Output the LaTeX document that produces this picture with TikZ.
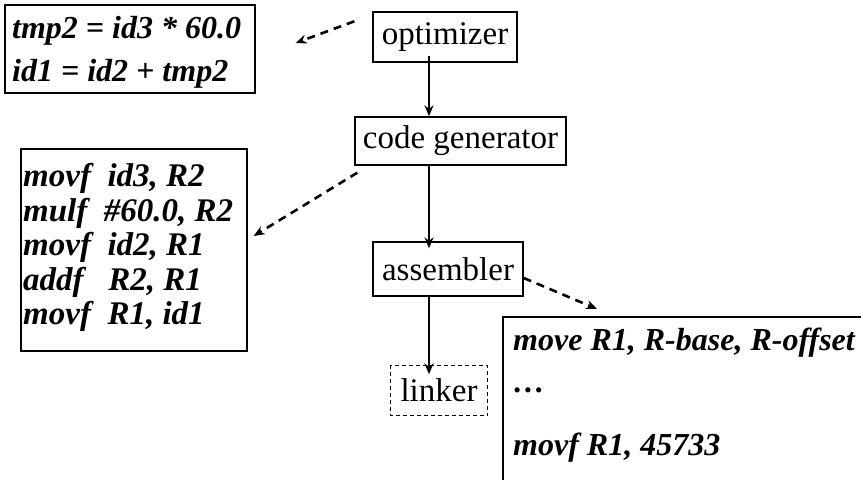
\documentclass[tikz,border=0pt]{standalone}
\usepackage{fontspec}
\setmainfont{Liberation Serif}
\usetikzlibrary{arrows.meta,calc}
\begin{document}
\begin{tikzpicture}[x=1pt,y=-1pt,
  box/.style={draw,line width=1.4pt,inner sep=0pt},
  lbl/.style={box,font=\fontsize{33}{36}\selectfont},
  code/.style={anchor=base west,inner sep=0pt,font=\fontsize{33}{36}\bfseries\itshape},
  bigcode/.style={code,font=\fontsize{32}{36}\bfseries\itshape},
  flow/.style={line width=2.6pt,-{Stealth[length=11pt,width=9pt]}},
  dflow/.style={line width=2.6pt,dash pattern=on 8pt off 6pt,-{Stealth[length=11pt,width=9pt]}}]
\useasboundingbox (0,0) rectangle (861,479);
% boxes
\node[lbl,minimum width=144,minimum height=50] (opt) at (445,37) {optimizer};
\node[lbl,minimum width=211,minimum height=48] (cg) at (460.5,141) {code generator};
\node[lbl,minimum width=150,minimum height=54] (asm) at (448,269) {assembler};
\node[lbl,draw=none,minimum width=96,minimum height=49] (lnk) at (439,390.5) {linker};
\draw[line width=1.2pt,dash pattern=on 4pt off 3pt] (lnk.north west) rectangle (lnk.south east);
\node[box,minimum width=250,minimum height=88] (tb) at (130,49) {};
\node[box,minimum width=226,minimum height=202] (cb) at (134,250) {};
\coordinate (rb) at (503,317);
\draw[line width=1.4pt] (rb) ++(360,0) -- (rb) -- ++(0,165);
% texts
\node[bigcode] (a1) at (12,38) {tmp2 = id3 * 60.0};
\node[bigcode] (a2) at (12,81) {id1 = id2 + tmp2};
\node[code] (c1) at (23,186.5) {movf~~id3, R2};
\node[code] (c2) at (23,221) {mulf~~\#60.0, R2};
\node[code] (c3) at (23,255.5) {movf~~id2, R1};
\node[code] (c4) at (23,290) {addf~~~R2, R1};
\node[code] (c5) at (23,324.5) {movf~~R1, id1};
\node[code,font=\fontsize{32}{36}\bfseries\itshape] (r1) at (513,350) {move R1, R-base, R-offset};
\node[code,font=\fontsize{32}{36}\bfseries\itshape] (r2) at (513,392) {…};
\node[code,font=\fontsize{32}{36}\bfseries\itshape] (r3) at (513,455) {movf R1, 45733};
% connectors
\coordinate (ax) at (429,0);
\draw[flow] ([yshift=7]opt.south -| ax) -- (cg.north -| ax);
\draw[flow] (cg.south -| ax) -- ([yshift=-7]asm.north -| ax);
\draw[flow] (asm.south -| ax) -- ([yshift=-9]lnk.north -| ax);
\draw[dflow] ($(opt.north west)+(-18,10)$) -- ($(tb.east)+(40,-6)$);
\draw[dflow] ($(cg.south west)+(3,7)$) -- ($(cb.east)+(6,-14)$);
\draw[dflow] ($(asm.east)+(0,9)$) -- ($(rb)+(94,-8)$);
\end{tikzpicture}
\end{document}
